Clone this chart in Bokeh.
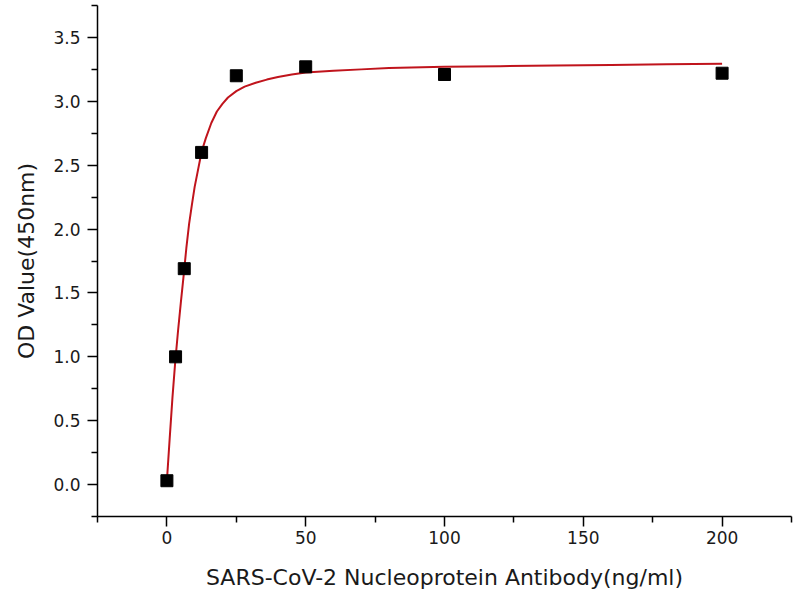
from bokeh.plotting import figure
from bokeh.models import Range1d, FixedTicker, PrintfTickFormatter
from bokeh.embed import file_html
from bokeh.resources import INLINE

# measured points
conc = [0, 3.125, 6.25, 12.5, 25, 50, 100, 200]
od = [0.03, 1.00, 1.69, 2.60, 3.20, 3.27, 3.21, 3.22]

# fitted curve
fit_x = [0, 1, 2, 3, 4, 5, 6, 7, 8, 9, 10, 11, 12, 13, 14, 16, 18, 20, 22, 25,
         28, 32, 36, 40, 45, 50, 60, 70, 80, 100, 120, 140, 160, 180, 200]
fit_y = [0.03, 0.36, 0.68, 0.96, 1.20, 1.42, 1.63, 1.85, 2.04, 2.19, 2.33, 2.44,
         2.55, 2.64, 2.71, 2.83, 2.92, 2.98, 3.03, 3.08, 3.115, 3.145, 3.17,
         3.19, 3.21, 3.225, 3.24, 3.25, 3.26, 3.27, 3.275, 3.28, 3.285, 3.29, 3.295]

x_major = [0, 50, 100, 150, 200]
x_minor = [-25, 25, 75, 125, 175, 225]
y_major = [0.0, 0.5, 1.0, 1.5, 2.0, 2.5, 3.0, 3.5]
y_minor = [-0.25, 0.25, 0.75, 1.25, 1.75, 2.25, 2.75, 3.25, 3.75]

x_title = "SARS-CoV-2 Nucleoprotein Antibody(ng/ml)"
y_title = "OD Value(450nm)"

p = figure(width=800, height=600, output_backend="svg", toolbar_location=None,
           x_range=Range1d(-25, 225), y_range=Range1d(-0.25, 3.75),
           min_border_left=97, min_border_right=9, min_border_top=5,
           min_border_bottom=84)
p.outline_line_color = None
p.xgrid.visible = False
p.ygrid.visible = False
p.background_fill_color = "white"

p.line(fit_x, fit_y, line_color="#c0141c", line_width=2)
p.scatter(conc, od, marker="square", size=12, fill_color="black", line_color="black")

font = "DejaVu Sans"
for ax in (p.xaxis[0], p.yaxis[0]):
    ax.axis_line_width = 1.5
    ax.axis_line_color = "black"
    ax.major_tick_line_width = 1.5
    ax.minor_tick_line_width = 1.5
    ax.major_tick_line_color = "black"
    ax.minor_tick_line_color = "black"
    ax.major_tick_out = 10
    ax.major_tick_in = 0
    ax.minor_tick_out = 6
    ax.minor_tick_in = 0
    ax.major_label_text_font = font
    ax.major_label_text_font_size = "17px"
    ax.major_label_text_color = "#1a1a1a"
    ax.axis_label_text_font = font
    ax.axis_label_text_font_size = "22px"
    ax.axis_label_text_font_style = "normal"
    ax.axis_label_text_color = "#1a1a1a"

p.xaxis[0].ticker = FixedTicker(ticks=x_major, minor_ticks=x_minor)
p.yaxis[0].ticker = FixedTicker(ticks=y_major, minor_ticks=y_minor)
p.yaxis[0].formatter = PrintfTickFormatter(format="%.1f")
p.xaxis[0].axis_label = x_title
p.yaxis[0].axis_label = y_title
p.xaxis[0].major_label_standoff = 4
p.yaxis[0].major_label_standoff = 7
p.xaxis[0].axis_label_standoff = 18
p.yaxis[0].axis_label_standoff = 11

open("out.html", "w").write(file_html(p, INLINE))
